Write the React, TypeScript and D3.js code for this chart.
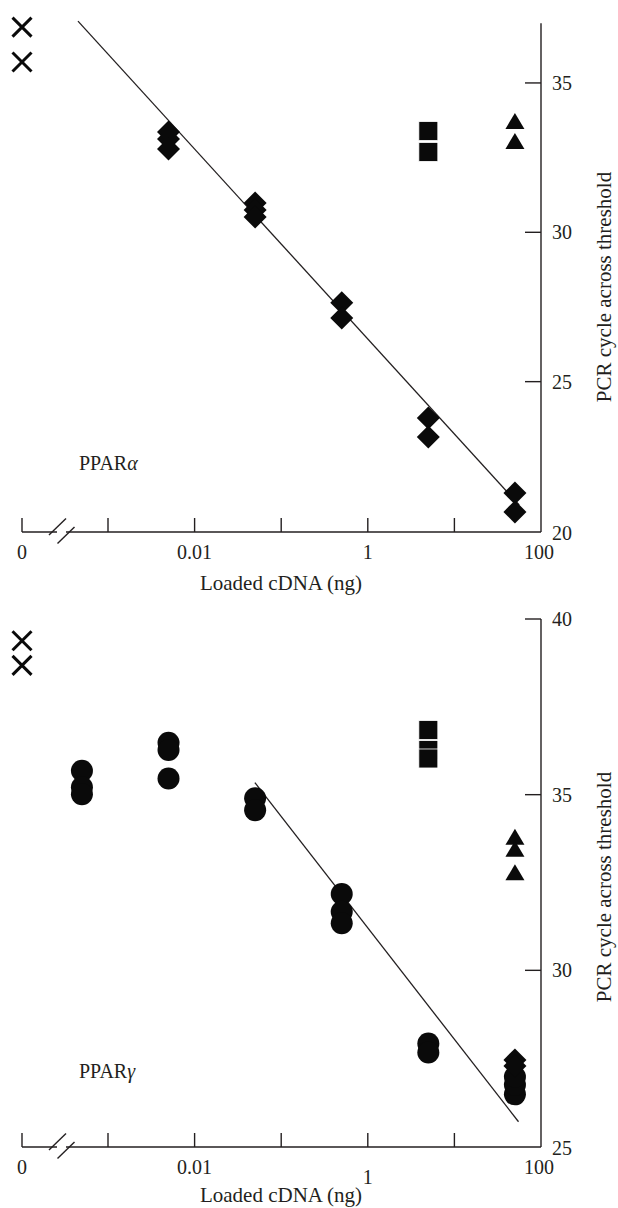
import React from "react";
import * as d3 from "d3";

const W = 618;
const H = 1208;
const ink = "#231f20";
const font = "'Liberation Serif', 'DejaVu Serif', serif";

// shared x axis (ng loaded, log), 0 = no template control
const xTickValues = [0.001, 0.01, 0.1, 1, 10, 100];
const xLabelValues = [0.01, 1, 100];

// PPARalpha
const alphaDiamondX = [0.005, 0.005, 0.005, 0.05, 0.05, 0.05, 0.5, 0.5, 5, 5, 50, 50];
const alphaDiamondCt = [33.36, 33.12, 32.79, 30.98, 30.75, 30.51, 27.64, 27.13, 23.78, 23.15, 21.27, 20.64];
const alphaSquareX = [5, 5];
const alphaSquareCt = [33.39, 32.69];
const alphaTriangleX = [50, 50];
const alphaTriangleCt = [33.73, 33.06];
const alphaNtcCt = [36.87, 35.7];
const alphaFitX = [0.00045, 56];
const alphaFitCt = [37.07, 20.87];
const alphaYTicks = [25, 30, 35];
const alphaYLabels = [20, 25, 30, 35];

// PPARgamma
const gammaCircleX = [0.0005, 0.0005, 0.0005, 0.005, 0.005, 0.005, 0.05, 0.05, 0.5, 0.5, 0.5, 5, 5, 50, 50, 50];
const gammaCircleCt = [35.68, 35.21, 35.01, 36.48, 36.27, 35.46, 34.9, 34.56, 32.17, 31.67, 31.34, 27.92, 27.66, 26.47, 26.74, 26.97];
const gammaDiamondX = [50, 50];
const gammaDiamondCt = [27.45, 27.28];
const gammaSquareX = [5, 5, 5];
const gammaSquareCt = [36.84, 36.27, 36.03];
const gammaTriangleX = [50, 50, 50];
const gammaTriangleCt = [33.8, 33.46, 32.79];
const gammaNtcCt = [39.38, 38.68];
const gammaFitX = [0.0497, 55];
const gammaFitCt = [35.34, 25.69];
const gammaYTicks = [30, 35, 40];
const gammaYLabels = [25, 30, 35, 40];

const zeroX = 22;
const logLeft = 108;
const plotRight = 541;

const diamondPath = "M0,-11.5L11.5,0L0,11.5L-11.5,0Z";
const trianglePath = "M0,-8L9.5,8L-9.5,8Z";

function Panel({ cfg }: { cfg: any }) {
  const x = d3.scaleLog().domain([0.001, 100]).range([logLeft, plotRight]);
  const xp = (v: number) => (v === 0 ? zeroX : x(v));
  const y = d3.scaleLinear().domain(cfg.yDomain).range(cfg.yRange);
  const base = cfg.axisY;
  const top = y(cfg.yDomain[1]);
  const line = d3
    .line<number>()
    .x((d) => x(d))
    .y((_, i) => y(cfg.fitCt[i]));

  return (
    <g>
      {/* x axis with break */}
      <g stroke={ink} strokeWidth={1.4} fill="none">
        <line x1={zeroX} x2={57} y1={base} y2={base} />
        <line x1={66} x2={plotRight} y1={base} y2={base} />
        <line x1={zeroX} x2={zeroX} y1={base} y2={base - 14} />
        <line x1={49} y1={base + 3} x2={66} y2={base - 13.5} />
        <line x1={57.5} y1={base + 11.5} x2={74.5} y2={base - 5} />
        {xTickValues.slice(0, 5).map((t) => (
          <line key={t} x1={x(t)} x2={x(t)} y1={base} y2={base - 14} />
        ))}
        {/* right y axis */}
        <line x1={plotRight} x2={plotRight} y1={base} y2={top} />
        {cfg.yTicks.map((t: number) => (
          <line key={t} x1={plotRight - 16} x2={plotRight} y1={y(t)} y2={y(t)} />
        ))}
      </g>
      <g fill={ink} fontFamily={font} fontSize={20}>
        <text x={zeroX} y={base + 27} textAnchor="middle">0</text>
        {xLabelValues.map((v) => (
          <text
            key={v}
            x={x(v) - (v === 100 ? 2 : 0)}
            y={base + 27 + (v === 1 ? cfg.oneDrop : 0)}
            textAnchor="middle"
          >
            {v}
          </text>
        ))}
        {cfg.yLabels.map((v: number) => (
          <text key={v} x={552} y={y(v) + 7 + (v === cfg.yDomain[0] ? 2 : 0)}>
            {v}
          </text>
        ))}
        <text x={79} y={cfg.nameY}>
          PPAR<tspan fontStyle="italic">{cfg.greek}</tspan>
        </text>
      </g>
      <g fill={ink} fontFamily={font} fontSize={21}>
        <text x={281} y={cfg.xTitleY} textAnchor="middle">Loaded cDNA (ng)</text>
        <text transform={`translate(611,${cfg.yTitleMid}) rotate(-90)`} textAnchor="middle">
          PCR cycle across threshold
        </text>
      </g>

      {/* fit */}
      <path d={line(cfg.fitX) || ""} fill="none" stroke={ink} strokeWidth={1.3} />

      {/* markers */}
      <g fill="#0a0a0a">
        {cfg.circleX.map((v: number, i: number) => (
          <circle key={"c" + i} cx={xp(v)} cy={y(cfg.circleCt[i])} r={11} />
        ))}
        {cfg.diamondX.map((v: number, i: number) => (
          <path key={"d" + i} d={diamondPath} transform={`translate(${xp(v)},${y(cfg.diamondCt[i])})`} />
        ))}
        {cfg.squareX.map((v: number, i: number) => (
          <rect
            key={"s" + i}
            x={xp(v) - 9.5}
            y={y(cfg.squareCt[i]) - 9.5}
            width={19}
            height={19}
            stroke="#fff"
            strokeWidth={0.8}
          />
        ))}
        {cfg.triangleX.map((v: number, i: number) => (
          <path key={"t" + i} d={trianglePath} transform={`translate(${xp(v)},${y(cfg.triangleCt[i])})`} />
        ))}
      </g>
      <g stroke="#0a0a0a" strokeWidth={3}>
        {cfg.ntcCt.map((c: number, i: number) => (
          <g key={"x" + i} transform={`translate(${xp(0)},${y(c)})`}>
            <line x1={-9.5} y1={-9.5} x2={9.5} y2={9.5} />
            <line x1={-9.5} y1={9.5} x2={9.5} y2={-9.5} />
          </g>
        ))}
      </g>
    </g>
  );
}

const alphaCfg = {
  yDomain: [20, 37],
  yRange: [531, 23.2],
  axisY: 532,
  yTicks: alphaYTicks,
  yLabels: alphaYLabels,
  greek: "α",
  nameY: 470,
  xTitleY: 590,
  yTitleMid: 287,
  oneDrop: 0,
  fitX: alphaFitX,
  fitCt: alphaFitCt,
  circleX: [],
  circleCt: [],
  diamondX: alphaDiamondX,
  diamondCt: alphaDiamondCt,
  squareX: alphaSquareX,
  squareCt: alphaSquareCt,
  triangleX: alphaTriangleX,
  triangleCt: alphaTriangleCt,
  ntcCt: alphaNtcCt,
};

const gammaCfg = {
  yDomain: [25, 40],
  yRange: [1146, 619],
  axisY: 1147,
  yTicks: gammaYTicks,
  yLabels: gammaYLabels,
  greek: "γ",
  nameY: 1078,
  xTitleY: 1202,
  yTitleMid: 887,
  oneDrop: 10,
  fitX: gammaFitX,
  fitCt: gammaFitCt,
  circleX: gammaCircleX,
  circleCt: gammaCircleCt,
  diamondX: gammaDiamondX,
  diamondCt: gammaDiamondCt,
  squareX: gammaSquareX,
  squareCt: gammaSquareCt,
  triangleX: gammaTriangleX,
  triangleCt: gammaTriangleCt,
  ntcCt: gammaNtcCt,
};

export default function App() {
  return (
    <svg
      width={W}
      height={H}
      style={{ position: "absolute", left: 0, top: 0, background: "#fff" }}
    >
      <rect width={W} height={H} fill="#fff" />
      <Panel cfg={alphaCfg} />
      <Panel cfg={gammaCfg} />
    </svg>
  );
}
